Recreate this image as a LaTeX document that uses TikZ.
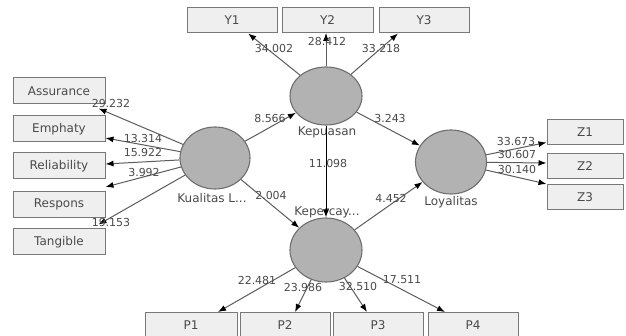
\documentclass[tikz,border=0pt]{standalone}
\usepackage{fontspec}
\setmainfont{DejaVu Sans}
\usetikzlibrary{arrows.meta,shapes.geometric}
\definecolor{boxfill}{HTML}{EFEFEF}
\definecolor{boxline}{HTML}{787878}
\definecolor{lvfill}{HTML}{B2B2B2}
\definecolor{lvline}{HTML}{6E6E6E}
\definecolor{txt}{HTML}{4A4A4A}
\definecolor{path}{HTML}{5C5C5C}
\tikzset{
  ind/.style={draw=boxline, fill=boxfill, line width=1pt, minimum width=90pt, minimum height=25pt, inner sep=0pt, text=txt, font=\fontsize{12}{14}\selectfont},
  lv/.style={ellipse, draw=lvline, fill=lvfill, line width=1.1pt, inner sep=0pt},
  lvname/.style={text=txt, font=\fontsize{12}{14}\selectfont},
  tval/.style={text=txt, inner sep=0pt, font=\fontsize{11}{13}\selectfont},
  load/.style={draw=path, line width=1pt, -{Latex[length=8pt,width=6pt,color=black]}},
}
\begin{document}
\begin{tikzpicture}[x=1pt,y=-1pt]
\useasboundingbox (0,0) rectangle (626,336);
% latent variables
\node[lv, minimum width=72pt, minimum height=58pt] (kepuasan) at (326,96) {};
\node[lv, minimum width=70pt, minimum height=62pt] (kualitas) at (215,158) {};
\node[lv, minimum width=72pt, minimum height=64pt] (kepercayaan) at (326,250) {};
\node[lv, minimum width=71pt, minimum height=64pt] (loyalitas) at (451,162) {};
\node[lvname] (kepuasanL) at (327,132) {Kepuasan};
\node[lvname] (kualitasL) at (212,198) {Kualitas L...};
\node[lvname] (kepercayaanL) at (327,212) {Kepercay...};
\node[lvname] (loyalitasL) at (451,202) {Loyalitas};
%
\node[ind] (y1) at (232,20.5) {Y1};
\node[ind, minimum width=91pt] (y2) at (327.5,20) {Y2};
\node[ind] (y3) at (424,20.5) {Y3};
%
\node[ind, minimum width=92pt, minimum height=26pt] (assurance) at (59,91) {Assurance};
\node[ind, minimum width=92pt, minimum height=26pt] (emphaty) at (59,129) {Emphaty};
\node[ind, minimum width=92pt, minimum height=26pt] (reliability) at (59,166) {Reliability};
\node[ind, minimum width=92pt, minimum height=26pt] (respons) at (59,204.5) {Respons};
\node[ind, minimum width=92pt, minimum height=26pt] (tangible) at (59,242) {Tangible};
%
\node[ind, minimum width=76pt] (z1) at (585,132.5) {Z1};
\node[ind, minimum width=76pt] (z2) at (585,166) {Z2};
\node[ind, minimum width=76pt] (z3) at (585,197) {Z3};
%
\node[ind, minimum width=92pt] (p1) at (191,325) {P1};
\node[ind] (p2) at (285,325) {P2};
\node[ind] (p3) at (378,325) {P3};
\node[ind] (p4) at (473,325) {P4};
% paths
\draw[load] (kualitas) -- (kepuasan);
\draw[load] (kepuasan) -- (loyalitas);
\draw[load] (kualitas) -- (kepercayaan);
\draw[load] (kepercayaan) -- (loyalitas);
\draw[load, draw=black] (kepuasan) -- (kepercayaan);
% outer loadings
\draw[load] (kepuasan) -- (y1);
\draw[load] (kepuasan) -- (kepuasan |- y2.south);
\draw[load] (kepuasan) -- ([xshift=-26pt]y3.south);
\draw[load] (kualitas) -- ([xshift=-7pt,yshift=-4pt]assurance.south east);
\draw[load] (kualitas) -- ([yshift=-9pt]emphaty.east);
\draw[load] (kualitas) -- ([yshift=2pt]reliability.east);
\draw[load] (kualitas) -- ([yshift=4pt]respons.north east);
\draw[load] (kualitas) -- ([xshift=-7pt,yshift=4pt]tangible.north east);
\draw[load] (loyalitas) -- ([yshift=3pt]z1.south west);
\draw[load] (loyalitas) -- ([yshift=3pt]z2.west);
\draw[load] (loyalitas) -- (z3.north west);
\draw[load] (kepercayaan) -- ([xshift=27pt]p1.north);
\draw[load] (kepercayaan) -- ([xshift=10pt]p2.north);
\draw[load] (kepercayaan) -- ([xshift=-11pt]p3.north);
\draw[load] (kepercayaan) -- ([xshift=-28pt]p4.north);
% t values
\node[tval] (t1) at (274,48) {34.002};
\node[tval] (t2) at (327,42) {28.412};
\node[tval] (t3) at (381,48) {33.218};
\node[tval] (t4) at (270,118) {8.566};
\node[tval] (t5) at (390,118) {3.243};
\node[tval] (t6) at (328,163) {11.098};
\node[tval] (t7) at (271,195) {2.004};
\node[tval] (t8) at (391,198) {4.452};
\node[tval] (t9) at (111,103) {29.232};
\node[tval] (t10) at (143,138) {13.314};
\node[tval] (t11) at (143,152) {15.922};
\node[tval] (t12) at (144,172) {3.992};
\node[tval] (t13) at (111,222) {19.153};
\node[tval] (t14) at (516,141) {33.673};
\node[tval] (t15) at (517,154) {30.607};
\node[tval] (t16) at (517,169) {30.140};
\node[tval] (t17) at (257,280) {22.481};
\node[tval] (t18) at (303,287) {23.986};
\node[tval] (t19) at (358,286) {32.510};
\node[tval] (t20) at (402,280) {17.511};
\end{tikzpicture}
\end{document}
